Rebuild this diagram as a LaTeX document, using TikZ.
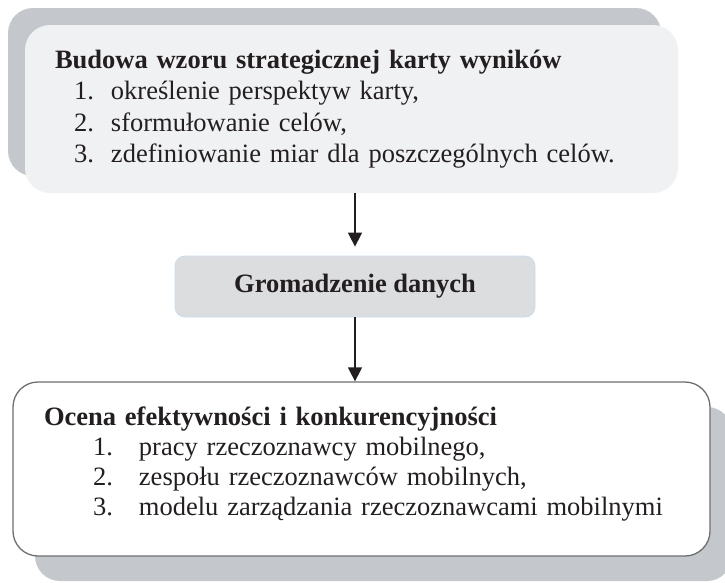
\documentclass[tikz,border=0pt]{standalone}
\usepackage{fontspec}
\setmainfont{Liberation Serif}
\usetikzlibrary{arrows.meta,shadows}
\definecolor{tlo}{HTML}{F0F1F3}
\definecolor{cien}{HTML}{C4C7CB}
\definecolor{srodek}{HTML}{DCDDDF}
\definecolor{ramka}{HTML}{C9DCEC}
\definecolor{obrys}{HTML}{6D6E71}
\definecolor{tekst}{HTML}{231F20}
\newcommand{\punkt}[3]{\hspace*{#1}\makebox[#2][l]{#3}}

\begin{document}
\begin{tikzpicture}[x=1pt, y=-1pt, >={Triangle[length=14pt, width=14pt]},
    duzy/.style={font=\fontsize{26.5pt}{31.3pt}\selectfont, text=tekst, align=left, inner ysep=0pt},
    strzalka/.style={->, line width=1.5pt, draw=tekst, fill=tekst}]
    \useasboundingbox (0,0) rectangle (725,582);

    % Top box: building the scorecard
    \node[duzy, fill=tlo, rounded corners=25pt, text width=593pt, inner xsep=30pt, minimum height=168pt,
          drop shadow={shadow xshift=-17pt, shadow yshift=17pt, fill=cien, opacity=1}] (wzor) at (351.5,109)
        {\textbf{Budowa wzoru strategicznej karty wyników}\\
         \punkt{19pt}{37pt}{1.}określenie perspektyw karty,\\
         \punkt{19pt}{37pt}{2.}sformułowanie celów,\\
         \punkt{19pt}{37pt}{3.}zdefiniowanie miar dla poszczególnych celów.};

    % Middle box
    \node[duzy, font=\fontsize{26.5pt}{31.3pt}\selectfont\bfseries, align=center, fill=srodek, draw=ramka,
          line width=0.8pt, rounded corners=10pt, minimum width=360pt, minimum height=61pt] (dane) at (355,286.5)
        {Gromadzenie danych};

    % Bottom box: evaluation
    \node[duzy, font=\fontsize{26.5pt}{30pt}\selectfont, fill=white, draw=obrys, line width=1.3pt,
          rounded corners=25pt, text width=635pt, inner xsep=31pt, minimum height=174pt, text depth=106pt,
          drop shadow={shadow xshift=22pt, shadow yshift=-25pt, fill=cien, opacity=1}] (ocena) at (361.5,469)
        {\textbf{Ocena efektywności i konkurencyjności}\\
         \punkt{49pt}{46pt}{1.}pracy rzeczoznawcy mobilnego,\\
         \punkt{49pt}{46pt}{2.}zespołu rzeczoznawców mobilnych,\\
         \punkt{49pt}{46pt}{3.}modelu zarządzania rzeczoznawcami mobilnymi};

    % Connectors
    \draw[strzalka, shorten >=9pt] (wzor.south -| dane.north) -- (dane.north);
    \draw[strzalka] (dane.south) -- (ocena.north -| dane.south);
\end{tikzpicture}
\end{document}
